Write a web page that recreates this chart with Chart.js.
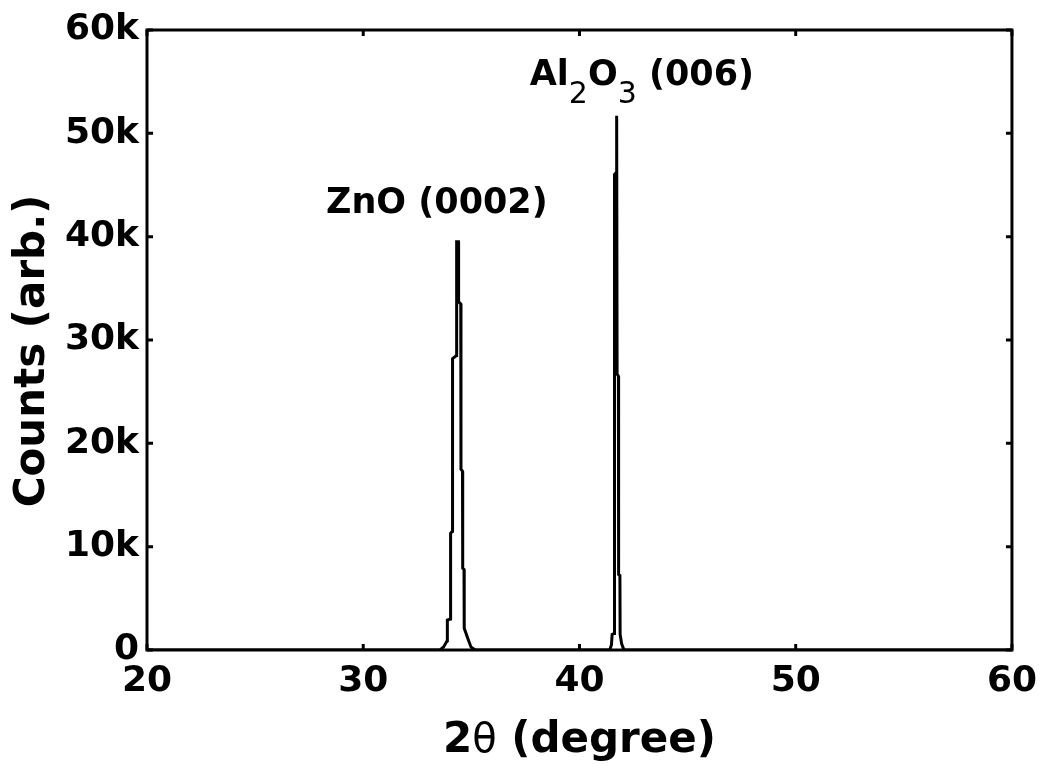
<!DOCTYPE html>
<html>
<head>
<meta charset="utf-8">
<script src="https://cdn.jsdelivr.net/npm/chart.js@4"></script>
<style>
  html, body { margin: 0; padding: 0; background: #fff; }
  #wrap { width: 1047px; height: 765px; position: relative; }
</style>
</head>
<body>
<div id="wrap"><canvas id="c"></canvas></div>
<script>
// ---- data ----
const twoTheta = [20.0,
  33.55, 33.72, 33.88, 33.89, 34.03, 34.04, 34.12, 34.13, 34.31, 34.32,
  34.40, 34.41, 34.51, 34.52, 34.59, 34.60, 34.66, 34.67, 34.82, 34.98, 35.18,
  41.40, 41.48, 41.51, 41.61, 41.62, 41.70, 41.71, 41.73, 41.74, 41.80, 41.81, 41.87, 41.88, 41.95, 42.06,
  60.0];
const counts = [0,
  0, 300, 900, 2900, 3000, 11300, 11500, 28200, 28500, 39500,
  39500, 33700, 33500, 17500, 17300, 7900, 7800, 2100, 1200, 300, 0,
  0, 500, 1500, 1600, 46000, 46200, 51700, 51700, 26700, 26500, 7300, 7200, 1500, 600, 0,
  0];
const xTicks = [20, 30, 40, 50, 60];
const yTicks = [0, 10000, 20000, 30000, 40000, 50000, 60000];
const yTickLabels = ['0', '10k', '20k', '30k', '40k', '50k', '60k'];
const peakLabels = [
  { parts: [['ZnO (0002)', 'b', 0]], x: 28.28, y: 42300 },
  { parts: [['Al', 'b', 0], ['2', 'r', 18], ['O', 'b', 0], ['3', 'r', 18], [' (006)', 'b', 0]], x: 37.70, y: 54700 }
];

const FONT = '"DejaVu Sans", Verdana, sans-serif';

const decorPlugin = {
  id: 'decor',
  afterDraw(chart) {
    const ctx = chart.ctx;
    const xs = chart.scales.x, ys = chart.scales.y;
    const a = chart.chartArea;
    ctx.save();
    // frame
    ctx.strokeStyle = '#000';
    ctx.lineWidth = 3;
    ctx.strokeRect(a.left, a.top, a.right - a.left, a.bottom - a.top);
    // inward ticks
    const tl = 6;
    ctx.beginPath();
    xTicks.forEach(v => {
      const p = xs.getPixelForValue(v);
      ctx.moveTo(p, a.bottom); ctx.lineTo(p, a.bottom - tl);
      ctx.moveTo(p, a.top); ctx.lineTo(p, a.top + tl);
    });
    yTicks.forEach(v => {
      const p = ys.getPixelForValue(v);
      ctx.moveTo(a.left, p); ctx.lineTo(a.left + tl, p);
      ctx.moveTo(a.right, p); ctx.lineTo(a.right - tl, p);
    });
    ctx.stroke();

    // peak labels
    ctx.fillStyle = '#000';
    ctx.textBaseline = 'alphabetic';
    ctx.textAlign = 'left';
    peakLabels.forEach(lab => {
      let px = xs.getPixelForValue(lab.x);
      const py = ys.getPixelForValue(lab.y);
      lab.parts.forEach(([t, w, dy]) => {
        ctx.font = (w === 'b' ? 'bold 35px ' : '30px ') + FONT;
        ctx.fillText(t, px, py + dy);
        px += ctx.measureText(t).width;
      });
    });

    // x axis title: 2θ (degree)
    const xParts = [['2', 'bold 42px '], ['θ', '40px '], [' (degree)', 'bold 42px ']];
    let total = 0;
    xParts.forEach(([t, f]) => { ctx.font = f + FONT; total += ctx.measureText(t).width; });
    let tx = (a.left + a.right) / 2 - total / 2;
    const tyBase = 752;
    xParts.forEach(([t, f]) => {
      ctx.font = f + FONT;
      ctx.fillText(t, tx, tyBase);
      tx += ctx.measureText(t).width;
    });

    // y axis title
    ctx.translate(33, 351);
    ctx.rotate(-Math.PI / 2);
    ctx.font = 'bold 42px ' + FONT;
    ctx.textAlign = 'center';
    ctx.textBaseline = 'middle';
    ctx.fillText('Counts (arb.)', 0, 0);
    ctx.restore();
  }
};

new Chart(document.getElementById('c'), {
  type: 'line',
  data: {
    datasets: [{
      data: twoTheta.map((t, i) => ({ x: t, y: counts[i] })),
      borderColor: '#000',
      borderWidth: 3,
      pointRadius: 0,
      tension: 0,
      fill: false
    }]
  },
  options: {
    responsive: true,
    maintainAspectRatio: false,
    animation: false,
    devicePixelRatio: 1,
    layout: { padding: { top: 30, right: 30, left: 0, bottom: 0 } },
    plugins: { legend: { display: false }, tooltip: { enabled: false } },
    scales: {
      x: {
        type: 'linear', min: 20, max: 60,
        afterBuildTicks: s => { s.ticks = xTicks.map(v => ({ value: v })); },
        afterFit: s => { s.height = 115; },
        ticks: { color: '#000', font: { family: FONT, size: 36, weight: 'bold' }, padding: 10, maxRotation: 0 },
        grid: { display: false, drawTicks: false, tickLength: 0 },
        border: { display: false }
      },
      y: {
        type: 'linear', min: 0, max: 60000,
        afterBuildTicks: s => { s.ticks = yTicks.map(v => ({ value: v })); },
        afterFit: s => { s.width = 147; },
        ticks: {
          color: '#000', font: { family: FONT, size: 36, weight: 'bold' }, padding: 8,
          callback: (v) => yTickLabels[yTicks.indexOf(v)]
        },
        grid: { display: false, drawTicks: false, tickLength: 0 },
        border: { display: false }
      }
    }
  },
  plugins: [decorPlugin]
});
</script>
</body>
</html>
